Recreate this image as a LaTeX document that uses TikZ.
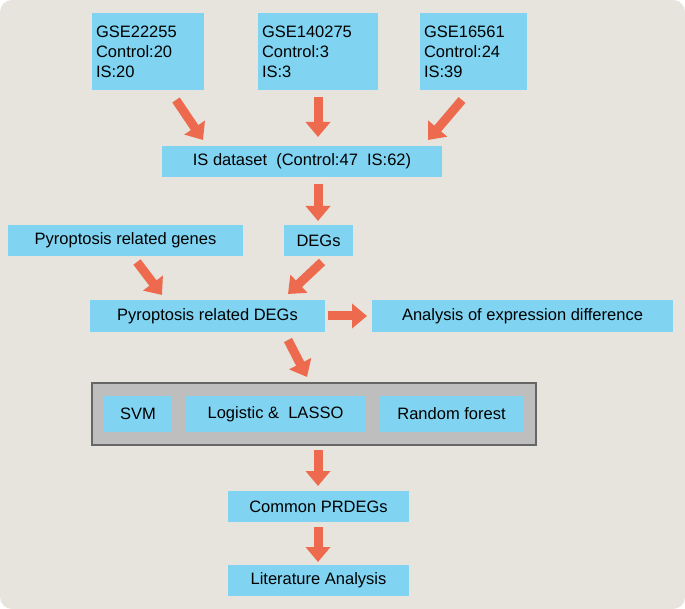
\documentclass[tikz,border=0pt]{standalone}
\usepackage{fontspec}
\setmainfont{Liberation Sans}
\usetikzlibrary{arrows.meta}
\definecolor{bg}{HTML}{E6E4DC}
\definecolor{bx}{HTML}{80D4F2}
\definecolor{ar}{HTML}{EE6A4E}
\definecolor{gr}{HTML}{BEBEBE}
\begin{document}
\begin{tikzpicture}[x=1pt,y=-1pt,
  box/.style={fill=bx,inner sep=0pt,font=\fontsize{16.5}{20}\selectfont},
  bigarrow/.style={draw=ar,line width=9pt,-{Triangle[width=24pt,length=15pt]}}]
\fill[bg,rounded corners=12pt] (0,0) rectangle (685,609);
\useasboundingbox (0,0) rectangle (685,609);
% top boxes
\node[box,minimum width=112pt,minimum height=77pt,text width=104pt,align=left] (g1) at (148,51.5) {GSE22255\\ Control:20\\IS:20};
\node[box,minimum width=120pt,minimum height=77pt,text width=112pt,align=left] (g2) at (318,51.5) {GSE140275\\Control:3\\IS:3};
\node[box,minimum width=107pt,minimum height=77pt,text width=99pt,align=left] (g3) at (473.5,51.5) {GSE16561\\Control:24\\IS:39};
\node[box,minimum width=280pt,minimum height=31pt] (is) at (302,161.5) {IS dataset\ \ (Control:47\ \ IS:62)};
\node[box,minimum width=235pt,minimum height=31pt] (prg) at (125.5,240.5) {Pyroptosis related genes};
\node[box,minimum width=69pt,minimum height=31pt] (deg) at (318.5,240.5) {DEGs};
\node[box,minimum width=235pt,minimum height=32pt] (pd) at (207.5,316) {Pyroptosis related DEGs};
\node[box,minimum width=301pt,minimum height=32pt] (an) at (522.5,316) {Analysis of expression difference};
\node[fill=gr,draw=black!60,line width=1.2pt,minimum width=444pt,minimum height=62pt,inner sep=0pt] (frame) at (314,414) {};
\node[box,minimum width=68pt,minimum height=36pt] (svm) at (138,414) {SVM};
\node[box,minimum width=181pt,minimum height=36pt] (lo) at (275.5,414) {Logistic \&\ \ LASSO};
\node[box,minimum width=143pt,minimum height=36pt] (rf) at (451.5,414) {Random forest};
\node[box,minimum width=181pt,minimum height=31pt] (cp) at (318.5,506.5) {Common PRDEGs};
\node[box,minimum width=181pt,minimum height=31pt] (la) at (318.5,580.5) {Literature Analysis};
% arrows
\coordinate (a1s) at (176,100); \coordinate (a1e) at (203,140);
\coordinate (a2s) at (318,97); \coordinate (a2e) at (318,137);
\coordinate (a3s) at (462,100); \coordinate (a3e) at (428,140);
\coordinate (a4s) at (318,184); \coordinate (a4e) at (318,221);
\coordinate (a5s) at (137,262); \coordinate (a5e) at (162,295);
\coordinate (a6s) at (322,262); \coordinate (a6e) at (288,294);
\coordinate (a7s) at (328,316); \coordinate (a7e) at (367,316);
\coordinate (a8s) at (288,340); \coordinate (a8e) at (307,377);
\coordinate (a9s) at (318,450); \coordinate (a9e) at (318,486);
\coordinate (a10s) at (318,527); \coordinate (a10e) at (318,562);
\foreach \i in {1,...,10} {\draw[bigarrow] (a\i s) -- (a\i e);}
\end{tikzpicture}
\end{document}
